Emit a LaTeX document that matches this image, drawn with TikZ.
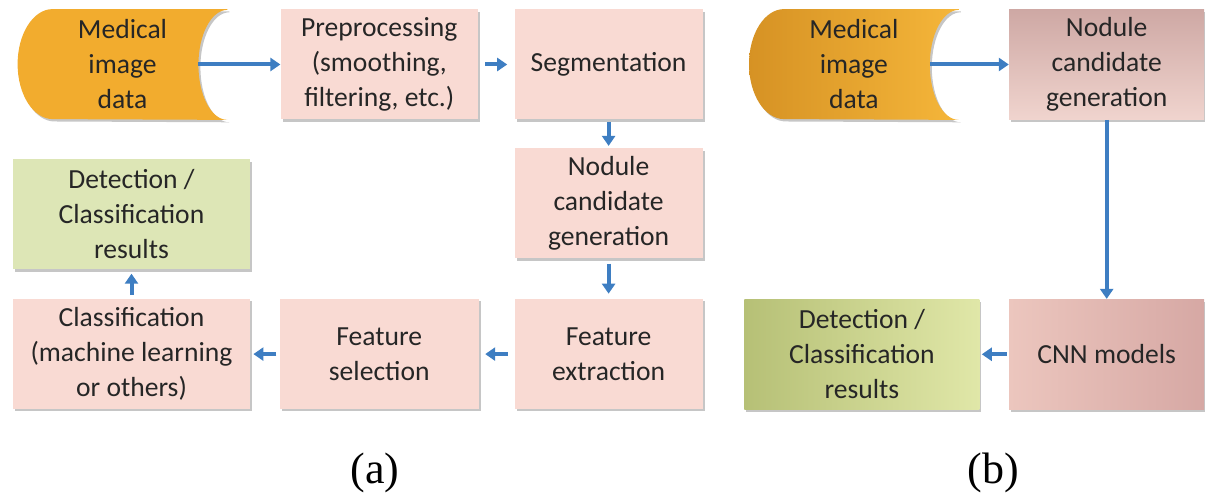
\documentclass[tikz,border=0pt]{standalone}
\usepackage{fontspec}
\setmainfont{Carlito}
\newfontfamily\capfont{Liberation Serif}
\usetikzlibrary{positioning, arrows.meta, shadows, backgrounds}

\definecolor{boxpink}{RGB}{249,218,211}
\definecolor{boxgreen}{RGB}{221,230,182}
\definecolor{dataorange}{RGB}{242,172,46}
\definecolor{arrowblue}{RGB}{62,126,194}

\begin{document}
\begin{tikzpicture}[x=0.5pt, y=0.5pt,
  txt/.style={minimum height=55pt, inner sep=1pt, align=center, font=\fontsize{13.8pt}{17.5pt}\selectfont, text=black!85},
  shadow/.style={drop shadow={shadow xshift=1pt, shadow yshift=-1.2pt, opacity=0.45}},
  pinkbox/.style={txt, shadow, fill=boxpink, minimum width=94pt},
  greenbox/.style={txt, shadow, fill=boxgreen, minimum width=118.5pt},
  datablock/.style={txt, minimum width=104.5pt},
  arrow/.style={-{Triangle[width=6.5pt,length=5pt]}, line width=2pt, draw=arrowblue},
  caption/.style={font=\capfont\fontsize{22pt}{26pt}\selectfont}]

  \useasboundingbox (0,0) rectangle (1205,496);

  % (a)
  \node[datablock] (data) at (122.5,431.5) {Medical\\image\\data};
  \node[pinkbox, minimum width=98.5pt, right=26.5pt of data] (prep) {Preprocessing\\(smoothing,\\filtering, etc.)};
  \node[pinkbox, right=18pt of prep] (seg) {Segmentation};
  \node[pinkbox, below=14pt of seg] (nod) {Nodule\\candidate\\generation};
  \node[pinkbox, below=20pt of nod] (fext) {Feature\\extraction};
  \node[pinkbox, minimum width=99.5pt, left=17.5pt of fext] (fsel) {Feature\\selection};
  \node[pinkbox, minimum width=118.5pt, left=14.5pt of fsel] (cls) {Classification\\(machine learning\\or others)};
  \node[greenbox, above=14.5pt of cls] (res) {Detection /\\Classification\\results};

  % (b)
  \node[datablock, right=23pt of seg] (data2) {Medical\\image\\data};
  \node[txt, shadow, minimum width=97.5pt, top color={rgb,255:red,206;green,168;blue,164}, bottom color={rgb,255:red,240;green,212;blue,206}, right=25pt of data2] (nod2) {Nodule\\candidate\\generation};
  \node[txt, shadow, minimum width=97.5pt, left color={rgb,255:red,236;green,198;blue,190}, right color={rgb,255:red,214;green,168;blue,164}, below=89.5pt of nod2] (cnn) {CNN models};
  \node[txt, shadow, minimum width=117.5pt, left color={rgb,255:red,182;green,192;blue,118}, right color={rgb,255:red,224;green,231;blue,168}, left=14.5pt of cnn] (res2) {Detection /\\Classification\\results};

  \begin{scope}[on background layer]
    \fill[dataorange, shadow] (data.north east) -- ([xshift=17.5pt]data.north west)
      arc[start angle=90, end angle=270, x radius=17.5pt, y radius=27.5pt]
      -- (data.south east)
      arc[start angle=270, end angle=90, x radius=14.5pt, y radius=27.5pt] -- cycle;
    \shade[left color={rgb,255:red,214;green,146;blue,36}, right color={rgb,255:red,245;green,182;blue,58}, shadow] (data2.north east) -- ([xshift=17.5pt]data2.north west)
      arc[start angle=90, end angle=270, x radius=17.5pt, y radius=27.5pt]
      -- (data2.south east)
      arc[start angle=270, end angle=90, x radius=14.5pt, y radius=27.5pt] -- cycle;
  \end{scope}

  \draw[arrow] ([xshift=-14.5pt]data.east) -- (prep.west);
  \draw[arrow, shorten <=3.5pt, shorten >=3.5pt] (prep) -- (seg);
  \draw[arrow, shorten <=1pt, shorten >=1pt] (seg) -- (nod);
  \draw[arrow, shorten <=2.5pt, shorten >=2.5pt] (nod) -- (fext);
  \draw[arrow, shorten <=3pt, shorten >=3pt] (fext) -- (fsel);
  \draw[arrow, shorten <=1.5pt, shorten >=1.5pt] (fsel) -- (cls);
  \draw[arrow, shorten <=2pt, shorten >=2pt] (cls) -- (res);

  \draw[arrow] ([xshift=-14.5pt]data2.east) -- (nod2.west);
  \draw[arrow] (nod2) -- (cnn);
  \draw[arrow, shorten <=1pt, shorten >=1pt] (cnn) -- (res2);

  \node[caption] (capa) at (375,23) {(a)};
  \node[caption] (capb) at (993,23) {(b)};
\end{tikzpicture}
\end{document}
